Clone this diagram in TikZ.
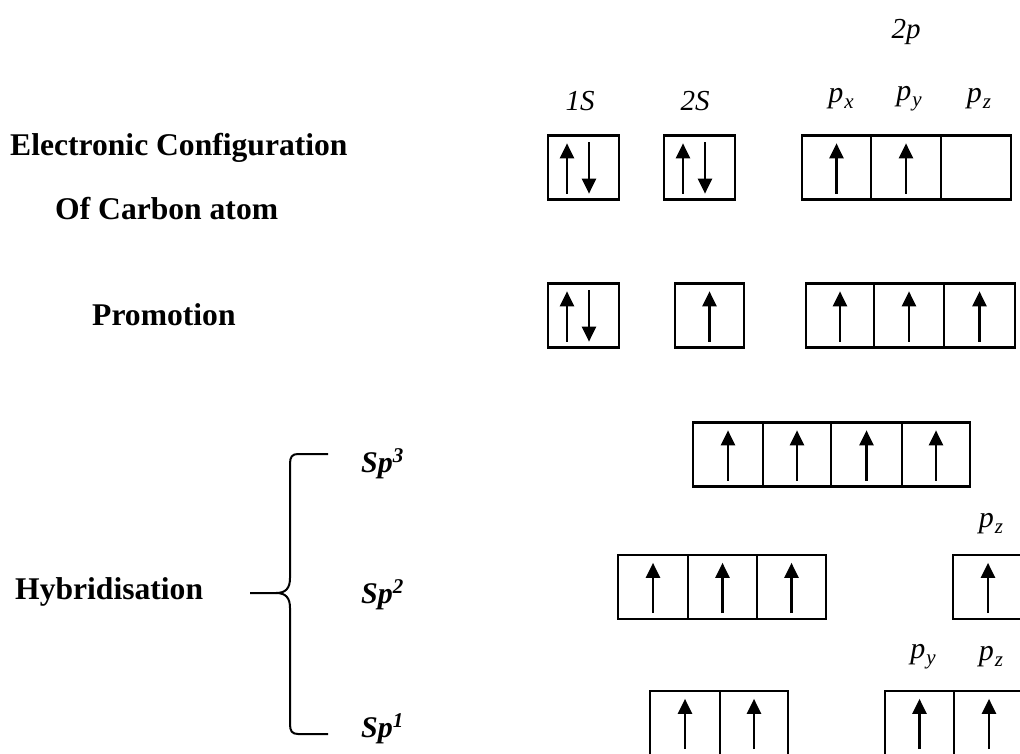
\documentclass[tikz,border=0pt]{standalone}
\usepackage{fontspec}
\setmainfont{Liberation Serif}
\usetikzlibrary{arrows.meta}
\tikzset{
  cell/.style={draw, line width=2.3pt, inner sep=0pt, minimum height=64pt},
  spin/.style={line width=2.3pt, -{Triangle[width=14pt,length=15pt]}},
  mainlbl/.style={inner sep=0pt, anchor=base west, font=\fontsize{31.6}{36}\selectfont\bfseries},
  hyblbl/.style={inner sep=0pt, anchor=base west, font=\fontsize{30}{34}\selectfont\bfseries\itshape},
  orblbl/.style={inner sep=0pt, font=\fontsize{29}{34}\selectfont\itshape},
  plbl/.style={inner sep=0pt, font=\fontsize{30}{34}\selectfont\itshape}
}
\newcommand{\porb}[1]{p\kern1pt\raisebox{-6pt}{\fontsize{21}{21}\selectfont #1}}
\newcommand{\upspin}[1]{\draw[spin] ([yshift=7pt]#1.south) -- ([yshift=-9pt]#1.north);}
\newcommand{\pairspin}[1]{%
  \draw[spin] ([xshift=-16.5pt,yshift=7pt]#1.south) -- ([xshift=-16.5pt,yshift=-9pt]#1.north);
  \draw[spin] ([xshift=5.5pt,yshift=-8pt]#1.north) -- ([xshift=5.5pt,yshift=7pt]#1.south);}
\begin{document}
\begin{tikzpicture}[x=1pt,y=1pt]
\useasboundingbox[fill=white] (0,0) rectangle (1020,-754);

% left labels
\node[mainlbl] (ec) at (10,-156) {Electronic Configuration};
\node[mainlbl] (of) at (55,-219) {Of Carbon atom};
\node[mainlbl] (pr) at (92,-325) {Promotion};
\node[mainlbl] (hy) at (15,-599) {Hybridisation};
\node[hyblbl] (sp3) at (361,-472) {Sp\textsuperscript{3}};
\node[hyblbl] (sp2) at (361,-603) {Sp\textsuperscript{2}};
\node[hyblbl] (sp1) at (361,-737) {Sp\textsuperscript{1}};

% brace
\draw[line width=2pt] (328,-454) -- (298,-454) .. controls (292,-454) and (290,-457) .. (290,-464)
  -- (290,-578) .. controls (290,-588) and (286,-593) .. (276,-593) -- (250,-593);
\draw[line width=2pt] (276,-593) .. controls (286,-593) and (290,-598) .. (290,-608)
  -- (290,-724) .. controls (290,-731) and (292,-734) .. (298,-734) -- (328,-734);

% orbital labels, row 1
\node[orblbl] (l2p) at (906,-32) {2p};
\node[orblbl] (l1s) at (580,-101) {1S};
\node[orblbl] (l2s) at (695,-101) {2S};
\node[plbl] (lpx) at (841,-99) {\porb{x}};
\node[plbl] (lpy) at (909,-99) {\porb{y}};
\node[plbl] (lpz) at (979,-99) {\porb{z}};

% row 1: ground state
\node[cell, minimum width=71pt] (a1) at (583.5,-167.5) {};
\node[cell, minimum width=71pt] (a2) at (699.5,-167.5) {};
\node[cell, minimum width=69pt] (a3) at (836.5,-167.5) {};
\node[cell, minimum width=70pt] (a4) at (906,-167.5) {};
\node[cell, minimum width=70pt] (a5) at (976,-167.5) {};
\pairspin{a1}
\pairspin{a2}
\upspin{a3}
\upspin{a4}

% row 2: promotion
\node[cell, minimum width=71pt] (b1) at (583.5,-315.5) {};
\node[cell, minimum width=69pt] (b2) at (709.5,-315.5) {};
\node[cell, minimum width=68pt] (b3) at (840,-315.5) {};
\node[cell, minimum width=70pt] (b4) at (909,-315.5) {};
\node[cell, minimum width=71pt] (b5) at (979.5,-315.5) {};
\pairspin{b1}
\upspin{b2}
\upspin{b3}
\upspin{b4}
\upspin{b5}

% sp3
\node[cell, minimum width=70pt] (c1) at (728,-454.5) {};
\node[cell, minimum width=68pt] (c2) at (797,-454.5) {};
\node[cell, minimum width=71pt] (c3) at (866.5,-454.5) {};
\node[cell, minimum width=68pt] (c4) at (936,-454.5) {};
\upspin{c1}
\upspin{c2}
\upspin{c3}
\upspin{c4}

% sp2
\node[cell, minimum width=70pt] (d1) at (653,-587) {};
\node[cell, minimum width=69pt] (d2) at (722.5,-587) {};
\node[cell, minimum width=69pt] (d3) at (791.5,-587) {};
\node[cell, minimum width=70pt] (d4) at (988,-587) {};
\node[plbl] (ldpz) at (991,-524) {\porb{z}};
\upspin{d1}
\upspin{d2}
\upspin{d3}
\upspin{d4}

% sp1
\node[cell, minimum width=70pt] (e1) at (685,-723) {};
\node[cell, minimum width=68pt] (e2) at (754,-723) {};
\node[cell, minimum width=69pt] (e3) at (919.5,-723) {};
\node[cell, minimum width=70pt] (e4) at (989,-723) {};
\node[plbl] (lepy) at (923,-657) {\porb{y}};
\node[plbl] (lepz) at (991,-657) {\porb{z}};
\upspin{e1}
\upspin{e2}
\upspin{e3}
\upspin{e4}
\end{tikzpicture}
\end{document}
